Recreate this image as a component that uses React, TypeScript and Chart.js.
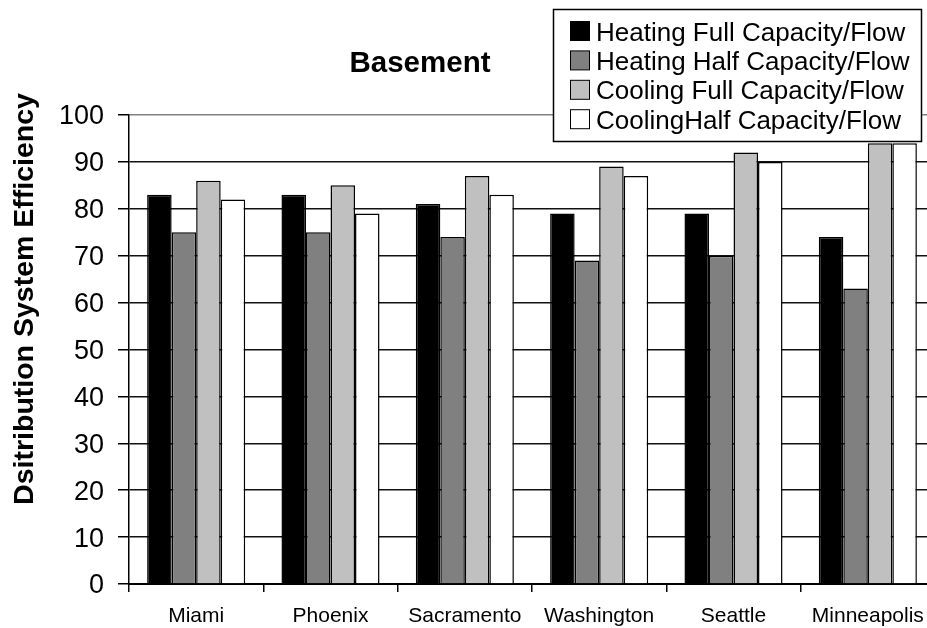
import React, { useEffect, useRef } from "react";
import { Chart, registerables } from "chart.js";

Chart.register(...registerables);

const categories = ["Miami", "Phoenix", "Sacramento", "Washington", "Seattle", "Minneapolis"];
const heatingFull = [83, 83, 81, 79, 79, 74];
const heatingHalf = [75, 75, 74, 69, 70, 63];
const coolingFull = [86, 85, 87, 89, 92, 94];
const coolingHalf = [82, 79, 83, 87, 90, 94];
const seriesLabels = [
  "Heating Full Capacity/Flow",
  "Heating Half Capacity/Flow",
  "Cooling Full Capacity/Flow",
  "CoolingHalf Capacity/Flow",
];
const seriesColors = ["#000000", "#808080", "#c0c0c0", "#ffffff"];
const yMin = 0;
const yMax = 100;
const yStep = 10;
const chartTitle = "Basement";
const yAxisTitle = "Dsitribution System Efficiency";

const FONT = "'Liberation Sans', Arial, Helvetica, sans-serif";

const overlayPlugin = {
  id: "overlay",
  afterDraw(chart: any) {
    const ctx = chart.ctx as CanvasRenderingContext2D;
    ctx.save();
    ctx.fillStyle = "#000";
    // Title
    ctx.font = `bold 29.5px ${FONT}`;
    ctx.textAlign = "center";
    ctx.textBaseline = "alphabetic";
    ctx.fillText(chartTitle, 420, 72);
    // Y axis title
    ctx.font = `bold 28.5px ${FONT}`;
    ctx.save();
    ctx.translate(33, 299);
    ctx.rotate(-Math.PI / 2);
    ctx.fillText(yAxisTitle, 0, 0);
    ctx.restore();
    // Legend
    const bx = 553.5, by = 9.5, bw = 368, bh = 132;
    ctx.fillStyle = "#fff";
    ctx.fillRect(bx, by, bw, bh);
    ctx.strokeStyle = "#000";
    ctx.lineWidth = 1.5;
    ctx.strokeRect(bx, by, bw, bh);
    ctx.font = `26px ${FONT}`;
    ctx.textAlign = "left";
    chart.data.datasets.forEach((ds: any, i: number) => {
      const top = 21 + i * 29.4;
      ctx.fillStyle = ds.backgroundColor;
      ctx.fillRect(570.5, top + 0.5, 19, 19);
      ctx.lineWidth = 1;
      ctx.strokeStyle = "#000";
      ctx.strokeRect(570.5, top + 0.5, 19, 19);
      ctx.fillStyle = "#000";
      ctx.fillText(ds.label, 596, top + 19.5);
    });
    ctx.restore();
  },
};

export default function App() {
  const canvasRef = useRef<HTMLCanvasElement | null>(null);

  useEffect(() => {
    if (!canvasRef.current) return;
    const series = [heatingFull, heatingHalf, coolingFull, coolingHalf];
    const chart = new Chart(canvasRef.current, {
      type: "bar",
      data: {
        labels: categories,
        datasets: series.map((values, i) => ({
          label: seriesLabels[i],
          data: values,
          backgroundColor: seriesColors[i],
          borderColor: "#000",
          borderWidth: 1.5,
          categoryPercentage: 0.73,
          barPercentage: 1.0,
        })),
      },
      options: {
        responsive: false,
        animation: false,
        devicePixelRatio: 1,
        layout: { padding: { top: 115, right: 10, bottom: 0, left: 0 } },
        plugins: {
          legend: { display: false },
          title: { display: false },
          tooltip: { enabled: false },
        },
        scales: {
          x: {
            afterFit: (scale: any) => {
              scale.height = 44;
            },
            border: { display: true, color: "#000", width: 2 },
            grid: {
              display: true,
              offset: true,
              drawOnChartArea: false,
              drawTicks: true,
              tickLength: 8,
              color: "#000",
              lineWidth: 1.5,
            },
            ticks: {
              color: "#000",
              font: { family: FONT, size: 21 },
              padding: 12,
              maxRotation: 0,
              autoSkip: false,
            },
          },
          y: {
            min: yMin,
            max: yMax,
            afterFit: (scale: any) => {
              scale.width = 129;
            },
            border: { display: true, color: "#000", width: 1.5 },
            grid: {
              color: (c: any) => (c.tick && c.tick.value === yMax ? "#808080" : "#111"),
              lineWidth: 1.5,
              drawTicks: true,
              tickLength: 11,
              tickColor: "#000",
            },
            ticks: {
              stepSize: yStep,
              color: "#000",
              font: { family: FONT, size: 27 },
              padding: 14,
              labelOffset: 2,
            },
          },
        },
      },
      plugins: [overlayPlugin],
    } as any);
    return () => chart.destroy();
  }, []);

  return (
    <div
      style={{
        position: "fixed",
        left: 0,
        top: 0,
        width: 927,
        height: 628,
        overflow: "hidden",
        background: "#fff",
      }}
    >
      <canvas
        ref={canvasRef}
        width={945}
        height={628}
        style={{ display: "block", width: 945, height: 628 }}
      />
    </div>
  );
}
